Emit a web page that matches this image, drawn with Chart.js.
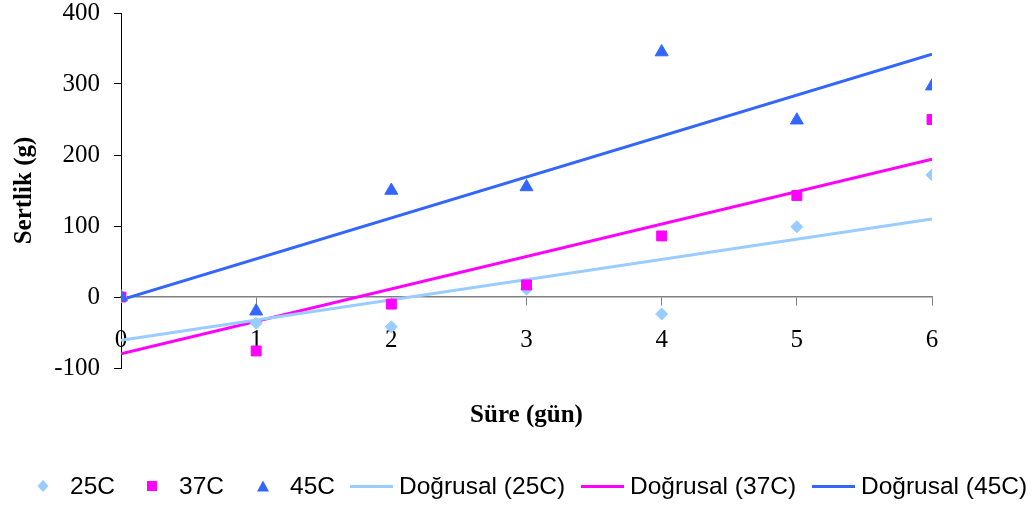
<!DOCTYPE html>
<html>
<head>
<meta charset="utf-8">
<script src="https://cdn.jsdelivr.net/npm/chart.js@4.4.1/dist/chart.umd.min.js"></script>
<style>
  body { margin: 0; background: #fff; }
  #wrap { position: relative; width: 1034px; height: 506px; }
  #chart { position: absolute; left: 0; top: 0; }
  #legend { position: absolute; left: 0; top: 471px; width: 1034px; height: 30px;
            font: 24.5px "Liberation Sans", Arial, sans-serif; color: #000; }
  .item { position: absolute; top: 0; height: 30px; line-height: 30px; display: flex; align-items: center; white-space: nowrap; }
  .item svg { flex: none; }
</style>
</head>
<body>
<div id="wrap">
  <canvas id="chart" width="1034" height="506"></canvas>
  <div id="legend"></div>
</div>
<script>
// measured values (Sertlik, g) per day
const days = [0, 1, 2, 3, 4, 5, 6];
const hard25 = [0, -37, -42, 11, -24, 99, 172];
const hard37 = [0, -76, -10, 17, 86, 143, 250];
const hard45 = [0, -20, 150, 155, 345, 249, 297];

// linear trend lines, read at both ends
const trendDays = [0, 6];
const trend25 = [-61, 110];
const trend37 = [-80, 194];
const trend45 = [-4, 342];

const seriesNames = ['25C', '37C', '45C'];
const trendNames = ['Doğrusal (25C)', 'Doğrusal (37C)', 'Doğrusal (45C)'];
const colors = ['#99CCFF', '#FF00FF', '#3366FF'];

const serif = '"Liberation Serif", "Times New Roman", serif';

function pts(xs, ys) {
  return xs.map((x, i) => ({ x: x, y: ys[i] }));
}

const markerStyles = ['rectRot', 'rect', 'triangle'];
const markerRadius = [6, 7, 7.5];
const values = [hard25, hard37, hard45];
const trends = [trend25, trend37, trend45];

const datasets = [];
values.forEach((v, i) => {
  datasets.push({
    label: seriesNames[i],
    data: pts(days, v),
    pointStyle: markerStyles[i],
    pointRadius: markerRadius[i],
    pointBackgroundColor: colors[i],
    pointBorderColor: colors[i],
    pointBorderWidth: 1,
    showLine: false,
    order: 2 - i
  });
});
trends.forEach((t, i) => {
  datasets.push({
    label: trendNames[i],
    data: pts(trendDays, t),
    showLine: true,
    borderColor: colors[i],
    borderWidth: 3,
    pointRadius: 0,
    order: 3 + i
  });
});

const ctx = document.getElementById('chart').getContext('2d');
new Chart(ctx, {
  type: 'scatter',
  data: { datasets: datasets },
  options: {
    responsive: false,
    animation: false,
    layout: { padding: { left: 0, right: 102, top: 13, bottom: 75 } },
    plugins: {
      legend: { display: false },
      tooltip: { enabled: false },
      title: {
        display: true,
        position: 'bottom',
        fullSize: false,
        text: 'Süre (gün)',
        color: '#000',
        font: { family: serif, size: 25, weight: 'bold' },
        padding: { top: 33, bottom: 0 }
      }
    },
    scales: {
      x: {
        type: 'linear',
        position: { y: 0 },
        min: 0,
        max: 6,
        ticks: { stepSize: 1, color: '#000', padding: 20, font: { family: serif, size: 25 } },
        grid: { drawOnChartArea: false, tickLength: 8, color: '#808080' },
        border: { color: '#808080', width: 1.5 },
        afterFit: s => { s.paddingLeft = 0; s.paddingRight = 0; }
      },
      y: {
        min: -100,
        max: 400,
        ticks: { stepSize: 100, color: '#000', padding: 14, font: { family: serif, size: 25 } },
        grid: { drawOnChartArea: false, tickLength: 7, color: '#000' },
        border: { color: '#000', width: 1 },
        title: {
          display: true,
          text: 'Sertlik (g)',
          color: '#000',
          font: { family: serif, size: 25, weight: 'bold' },
          padding: { top: 10, bottom: 0 }
        },
        afterFit: s => { s.width = 121; s.paddingTop = 0; s.paddingBottom = 0; }
      }
    }
  }
});

// legend below the chart
const legend = document.getElementById('legend');
const legendX = [36, 145, 256, 350, 581, 812];
function markerSvg(i) {
  const c = colors[i];
  let shape;
  if (i === 0) shape = '<polygon points="7,1 12.5,7 7,13 1.5,7" fill="' + c + '"/>';
  else if (i === 1) shape = '<rect x="2" y="2" width="10" height="10" fill="' + c + '"/>';
  else shape = '<polygon points="7,1.5 13,12.5 1,12.5" fill="' + c + '"/>';
  return '<svg width="14" height="14">' + shape + '</svg>';
}
seriesNames.forEach((name, i) => {
  const el = document.createElement('div');
  el.className = 'item';
  el.style.left = legendX[i] + 'px';
  el.innerHTML = markerSvg(i) + '<span style="margin-left:20px">' + name + '</span>';
  legend.appendChild(el);
});
trendNames.forEach((name, i) => {
  const el = document.createElement('div');
  el.className = 'item';
  el.style.left = legendX[3 + i] + 'px';
  el.innerHTML = '<span style="display:inline-block;width:43px;height:3px;background:' + colors[i] + '"></span>' +
    '<span style="margin-left:6px">' + name + '</span>';
  legend.appendChild(el);
});
</script>
</body>
</html>
